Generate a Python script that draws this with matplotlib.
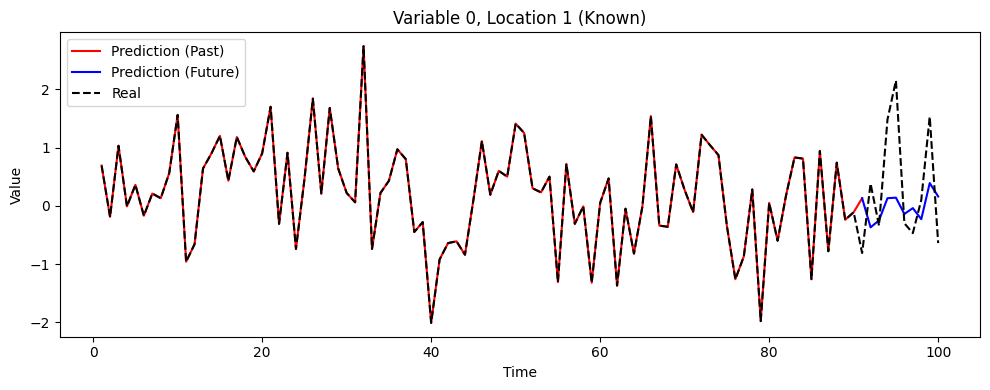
import numpy as np
import matplotlib
matplotlib.use("Agg")
import matplotlib.pyplot as plt

# real series, t = 1..100
real = [0.69, -0.19, 1.03, -0.01, 0.36, -0.17, 0.21, 0.13, 0.56, 1.56,
        -0.96, -0.66, 0.64, 0.90, 1.20, 0.43, 1.18, 0.84, 0.59, 0.90,
        1.70, -0.31, 0.91, -0.74, 0.45, 1.84, 0.21, 1.68, 0.64, 0.22,
        0.06, 2.74, -0.74, 0.22, 0.43, 0.97, 0.80, -0.45, -0.28, -2.01,
        -0.92, -0.64, -0.61, -0.84, 0.10, 1.11, 0.19, 0.60, 0.50, 1.41,
        1.25, 0.30, 0.23, 0.50, -1.31, 0.72, -0.31, -0.01, -1.32, 0.05,
        0.47, -1.37, -0.05, -0.82, -0.01, 1.54, -0.34, -0.36, 0.71, 0.27,
        -0.11, 1.22, 1.04, 0.87, -0.35, -1.26, -0.87, 0.28, -1.98, 0.05,
        -0.60, 0.18, 0.83, 0.81, -1.26, 0.94, -0.78, 0.74, -0.24, -0.11,
        -0.81, 0.38, -0.34, 1.48, 2.15, -0.30, -0.47, 0.10, 1.53, -0.64]

# prediction for the known part (t = 1..91): follows the real values, last point differs
pred_past = real[:90] + [0.13]

# prediction for the future part (t = 91..100)
pred_future = [0.13, -0.37, -0.25, 0.13, 0.14, -0.14, -0.04, -0.23, 0.39, 0.16]

t = np.arange(1, 101)
t_past = t[:91]
t_future = t[90:]

fig, ax = plt.subplots(figsize=(10, 4), dpi=100)
ax.plot(t_past, pred_past, color='red', label='Prediction (Past)')
ax.plot(t_future, pred_future, color='blue', label='Prediction (Future)')
ax.plot(t, real, 'k--', label='Real')

ax.set_title('Variable 0, Location 1 (Known)')
ax.set_xlabel('Time')
ax.set_ylabel('Value')
ax.legend(loc='upper left')

plt.tight_layout()
plt.savefig('out.png', bbox_inches='tight')
